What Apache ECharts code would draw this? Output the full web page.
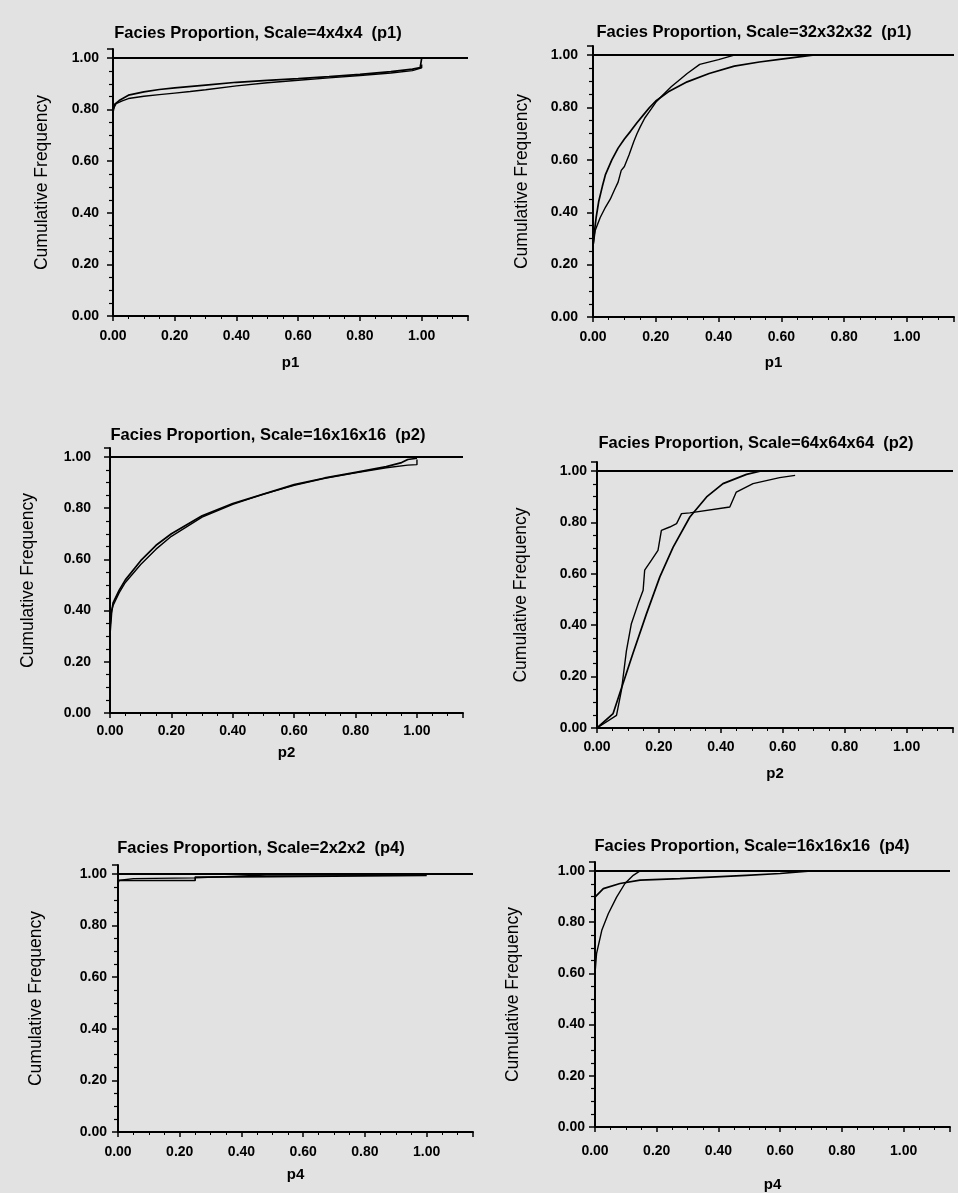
<!DOCTYPE html>
<html>
<head>
<meta charset="utf-8">
<script src="https://cdn.jsdelivr.net/npm/echarts@6/dist/echarts.min.js"></script>
<style>
html,body{margin:0;padding:0;background:#e2e2e2;}
#chart{width:958px;height:1193px;}
</style>
</head>
<body>
<div id="chart"></div>
<script>
// ---------- data ----------
const titles = [
  'Facies Proportion, Scale=4x4x4  (p1)',
  'Facies Proportion, Scale=32x32x32  (p1)',
  'Facies Proportion, Scale=16x16x16  (p2)',
  'Facies Proportion, Scale=64x64x64  (p2)',
  'Facies Proportion, Scale=2x2x2  (p4)',
  'Facies Proportion, Scale=16x16x16  (p4)'
];
const xNames = ['p1', 'p1', 'p2', 'p2', 'p4', 'p4'];
const yName = 'Cumulative Frequency';
const xTicks = [0, 0.2, 0.4, 0.6, 0.8, 1.0];
const yTicks = [0, 0.2, 0.4, 0.6, 0.8, 1.0];
const refLevel = 1.0;

// panel 1: 4x4x4 p1
const s1a = [[0,0.79],[0.005,0.82],[0.02,0.835],[0.05,0.856],[0.1,0.869],[0.15,0.878],[0.2,0.884],[0.3,0.895],[0.4,0.906],[0.5,0.913],[0.6,0.92],[0.7,0.928],[0.8,0.937],[0.9,0.947],[0.97,0.957],[0.995,0.963],[1.0,1.0]];
const s1b = [[0,0.80],[0.01,0.823],[0.03,0.834],[0.05,0.843],[0.1,0.852],[0.15,0.858],[0.2,0.864],[0.25,0.870],[0.3,0.877],[0.4,0.892],[0.5,0.904],[0.6,0.914],[0.7,0.923],[0.8,0.932],[0.9,0.942],[0.97,0.951],[1.0,0.962],[1.0,0.975]];
// panel 2: 32x32x32 p1
const s2a = [[0,0.27],[0.005,0.33],[0.01,0.38],[0.018,0.44],[0.03,0.50],[0.04,0.545],[0.06,0.60],[0.08,0.645],[0.1,0.68],[0.12,0.71],[0.14,0.742],[0.16,0.771],[0.18,0.80],[0.2,0.825],[0.24,0.860],[0.3,0.898],[0.37,0.930],[0.45,0.958],[0.53,0.974],[0.6,0.985],[0.7,1.0]];
const s2b = [[0,0.27],[0.007,0.33],[0.023,0.38],[0.04,0.42],[0.055,0.45],[0.07,0.49],[0.08,0.515],[0.09,0.56],[0.1,0.575],[0.115,0.62],[0.13,0.67],[0.14,0.70],[0.15,0.725],[0.165,0.76],[0.18,0.785],[0.2,0.82],[0.22,0.845],[0.25,0.88],[0.28,0.91],[0.3,0.93],[0.34,0.965],[0.4,0.983],[0.45,1.0]];
// panel 3: 16x16x16 p2
const s3a = [[0,0.31],[0.005,0.39],[0.01,0.43],[0.03,0.48],[0.05,0.52],[0.1,0.595],[0.15,0.655],[0.2,0.70],[0.3,0.77],[0.4,0.818],[0.5,0.855],[0.6,0.892],[0.7,0.918],[0.8,0.94],[0.9,0.962],[0.95,0.978],[0.97,0.99],[1.0,0.995]];
const s3b = [[0,0.33],[0.005,0.40],[0.01,0.42],[0.03,0.47],[0.05,0.51],[0.1,0.58],[0.15,0.64],[0.2,0.69],[0.3,0.765],[0.4,0.815],[0.5,0.855],[0.6,0.889],[0.7,0.917],[0.8,0.938],[0.9,0.958],[0.97,0.968],[1.0,0.97],[1.0,0.99]];
// panel 4: 64x64x64 p2
const s4a = [[0,0],[0.052,0.056],[0.084,0.173],[0.116,0.29],[0.16,0.445],[0.203,0.588],[0.246,0.704],[0.3,0.821],[0.354,0.899],[0.407,0.951],[0.483,0.987],[0.53,1.0]];
const s4b = [[0,0],[0.063,0.049],[0.079,0.147],[0.095,0.30],[0.111,0.406],[0.133,0.484],[0.149,0.536],[0.154,0.614],[0.176,0.653],[0.197,0.691],[0.208,0.769],[0.235,0.782],[0.257,0.795],[0.273,0.834],[0.30,0.837],[0.429,0.86],[0.45,0.918],[0.504,0.951],[0.59,0.974],[0.64,0.983]];
// panel 5: 2x2x2 p4
const s5a = [[0,0.965],[0.003,0.975],[0.25,0.975],[0.25,0.988],[0.5,0.99],[0.5,0.995],[1.0,0.995]];
const s5b = [[0,0.975],[0.05,0.982],[0.25,0.985],[0.5,0.997],[0.75,0.996],[1.0,0.998]];
// panel 6: 16x16x16 p4
const s6a = [[0,0.898],[0.027,0.931],[0.081,0.951],[0.146,0.964],[0.275,0.970],[0.49,0.983],[0.6,0.99],[0.7,1.0]];
const s6b = [[0,0.599],[0.005,0.677],[0.022,0.768],[0.043,0.833],[0.07,0.898],[0.097,0.951],[0.124,0.983],[0.146,1.0]];

const seriesPairs = [[s1a, s1b], [s2a, s2b], [s3a, s3b], [s4a, s4b], [s5a, s5b], [s6a, s6b]];

// ---------- layout ----------
const layout = [
  {left:113, top:49, width:355, height:267, titleX:258, titleY:33, yGap:62, xGap:39, lblMargin:13, yLblMargin:14},
  {left:593, top:46, width:361, height:271, titleX:754, titleY:32, yGap:62, xGap:38, lblMargin:13, yLblMargin:15},
  {left:110, top:448, width:353, height:265, titleX:268, titleY:435, yGap:73, xGap:32, lblMargin:11, yLblMargin:19},
  {left:597, top:462, width:356, height:266, titleX:756, titleY:443, yGap:67, xGap:38, lblMargin:12, yLblMargin:10},
  {left:118, top:865, width:355, height:267, titleX:261, titleY:848, yGap:73, xGap:35, lblMargin:13, yLblMargin:11},
  {left:595, top:862, width:355, height:265, titleX:752, titleY:846, yGap:73, xGap:50, lblMargin:17, yLblMargin:10}
];

const FONT = 'Liberation Sans, Arial, sans-serif';
const isTick = (list, v) => list.some(t => Math.abs(t - v) < 1e-6);

const grids = [], xAxes = [], yAxes = [], series = [], graphics = [];
layout.forEach((L, i) => {
  grids.push({left: L.left, top: L.top, width: L.width, height: L.height, containLabel: false});
  xAxes.push({
    type: 'value', gridIndex: i, min: 0, max: 1.15, interval: 0.2,
    name: xNames[i], nameLocation: 'middle', nameGap: L.xGap,
    nameTextStyle: {fontFamily: FONT, fontWeight: 'bold', fontSize: 15, color: '#000'},
    axisLine: {show: true, onZero: false, lineStyle: {color: '#000', width: 2}},
    axisTick: {show: true, length: 5, lineStyle: {color: '#000', width: 1.5}},
    minorTick: {show: true, splitNumber: 4, length: 3, lineStyle: {color: '#000', width: 1}},
    splitLine: {show: false},
    axisLabel: {margin: L.lblMargin, fontFamily: FONT, fontWeight: 'bold', fontSize: 14, color: '#000',
      formatter: v => isTick(xTicks, v) ? v.toFixed(2) : ''}
  });
  yAxes.push({
    type: 'value', gridIndex: i, min: 0, max: 1.035, interval: 0.2,
    name: yName, nameLocation: 'middle', nameGap: L.yGap, nameRotate: 90,
    nameTextStyle: {fontFamily: FONT, fontSize: 17.5, color: '#000'},
    axisLine: {show: true, onZero: false, lineStyle: {color: '#000', width: 2}},
    axisTick: {show: true, length: 6, lineStyle: {color: '#000', width: 1.5}},
    minorTick: {show: true, splitNumber: 4, length: 4, lineStyle: {color: '#000', width: 1.2}},
    splitLine: {show: false},
    axisLabel: {margin: L.yLblMargin, fontFamily: FONT, fontWeight: 'bold', fontSize: 14, color: '#000',
      formatter: v => isTick(yTicks, v) ? v.toFixed(2) : ''}
  });
  seriesPairs[i].forEach((d, k) => {
    const s = {
      type: 'line', xAxisIndex: i, yAxisIndex: i, data: d,
      showSymbol: false, symbol: 'none', smooth: false, silent: true,
      lineStyle: {color: '#000', width: k === 0 ? 1.7 : 1.4}
    };
    if (k === 0) {
      s.markLine = {
        silent: true, symbol: 'none', animation: false,
        label: {show: false},
        lineStyle: {color: '#000', width: 2, type: 'solid'},
        data: [{yAxis: refLevel}]
      };
    }
    series.push(s);
  });
  graphics.push({
    type: 'text', x: L.titleX, y: L.titleY,
    style: {text: titles[i], textAlign: 'center', textVerticalAlign: 'middle',
      font: 'bold 16.5px ' + FONT, fill: '#000'}
  });
});

const chart = echarts.init(document.getElementById('chart'), null, {renderer: 'canvas'});
chart.setOption({
  backgroundColor: '#e2e2e2',
  animation: false,
  grid: grids,
  xAxis: xAxes,
  yAxis: yAxes,
  series: series,
  graphic: graphics
});
</script>
</body>
</html>
